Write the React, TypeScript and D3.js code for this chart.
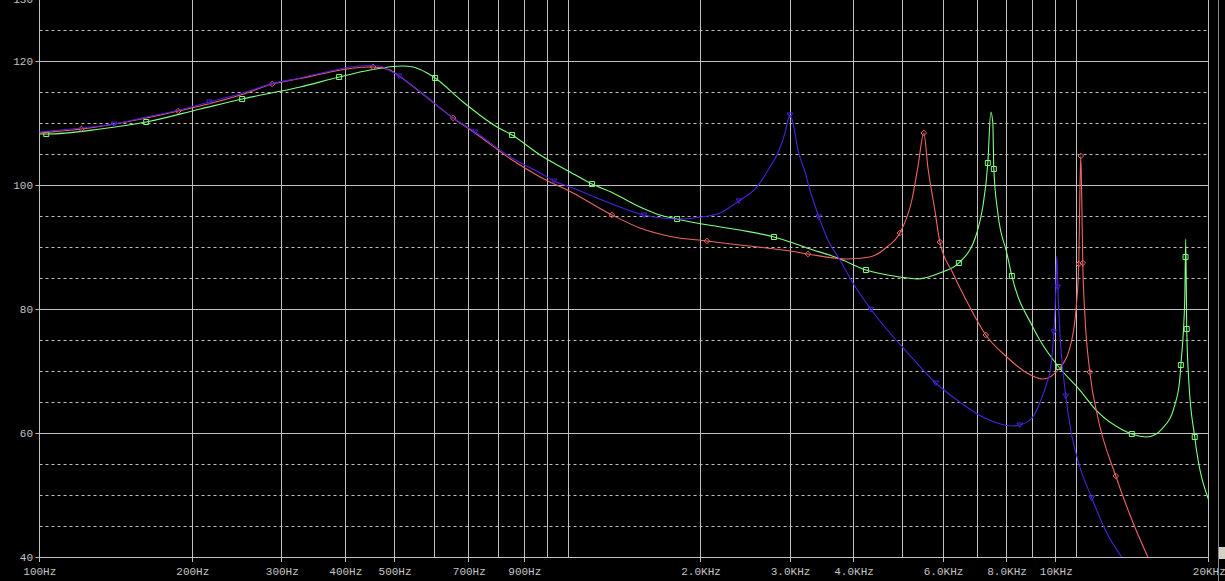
import React, { useEffect } from "react";
import * as d3 from "d3";

type Pt = [number, number];

// Frequency (Hz) / level (dB) values
const blueData: Pt[] = [
  [100, 108.6], [121, 109.24], [140.4, 109.89], [162.3, 111.0], [187.6, 112.1], [216, 113.44],
  [250.7, 114.84], [287.2, 116.4], [326.2, 117.31], [373.6, 118.44], [408.9, 119.08], [447.6, 119.32],
  [468.3, 119.24], [490, 118.44], [510.5, 117.63], [561.5, 115.05], [652, 110.86], [720, 108.6],
  [851.6, 104.4], [967, 101.98], [1030, 100.69], [1122, 99.56], [1309, 97.31], [1548, 95.21],
  [1798, 94.56], [2013, 94.89], [2184, 95.53], [2380, 97.47], [2582, 99.73], [2739, 102.95],
  [2840, 105.21], [2932, 108.44], [2972, 110.53], [3000, 111.34], [3040, 110.05], [3110, 105.69],
  [3210, 102.15], [3283, 99.24], [3419, 94.89], [3562, 91.18], [3761, 87.95], [3989, 84.24],
  [4308, 80.21], [4716, 76.18], [5093, 73.11], [5805, 68.11], [6387, 65.37], [7183, 62.63],
  [8214, 61.18], [8496, 61.34], [9011, 62.63], [9300, 64.89], [9645, 68.6], [9733, 69.73],
  [9910, 76.34], [10000, 83.11], [10045, 88.6], [10091, 83.6], [10182, 76.66], [10464, 66.02],
  [10702, 60.53], [11047, 55.69], [11771, 49.56], [12597, 43.92], [13483, 40.05],
];
const blueMarkers: Pt[] = [
  [140.4, 109.89], [216, 113.44], [510.5, 117.63], [720, 108.6], [1030, 100.69], [1548, 95.21],
  [2380, 97.47], [3000, 111.34], [3419, 94.89], [4327, 80.0], [5805, 68.11], [8496, 61.34],
  [9910, 76.34], [10091, 83.6], [10464, 66.02], [11771, 49.56],
];

const redData: Pt[] = [
  [100, 108.44], [121, 109.08], [187.6, 111.98], [250.7, 114.66], [287.2, 116.34], [326.2, 117.23],
  [373.6, 118.27], [408.9, 118.84], [453.8, 119.08], [490, 118.6], [510.5, 117.63], [561.5, 115.05],
  [652, 110.86], [720, 108.44], [851.6, 104.08], [967, 101.34], [1122, 98.76], [1339, 95.21],
  [1520, 93.11], [1766, 91.66], [2059, 91.02], [2390, 90.37], [3000, 89.4], [3253, 88.92],
  [3882, 88.11], [4308, 88.44], [4652, 90.05], [4934, 92.31], [5210, 97.63], [5354, 102.95],
  [5500, 108.44], [5601, 102.95], [5781, 96.02], [5914, 90.86], [6272, 85.86], [6774, 80.37],
  [7282, 75.85], [8010, 72.31], [8770, 69.73], [9427, 68.76], [10182, 70.53], [10750, 75.05],
  [10997, 81.5], [11097, 87.31], [11147, 97.63], [11198, 104.73], [11249, 97.63], [11300, 87.47],
  [11403, 79.4], [11666, 69.89], [12093, 62.63], [13121, 53.11], [14303, 44.89], [15175, 40.05],
];
const redMarkers: Pt[] = [
  [121, 109.08], [187.6, 111.98], [287.2, 116.34], [453.8, 119.08], [652, 110.86], [1339, 95.21],
  [2059, 91.02], [3253, 88.92], [4934, 92.31], [5500, 108.44], [5914, 90.86], [7282, 75.85],
  [11097, 87.31], [11198, 104.73], [11300, 87.47], [11666, 69.89], [13121, 53.11],
];

const greenData: Pt[] = [
  [100, 108.27], [103.2, 108.27], [131.8, 109.08], [162.3, 110.21], [207.4, 112.31], [250.7, 113.92],
  [326.2, 115.85], [389, 117.47], [447.6, 118.6], [517.5, 119.24], [543.9, 119.08], [579.5, 118.11],
  [600.8, 117.31], [682, 113.44], [795.5, 109.4], [851.6, 108.11], [967, 104.89], [1107, 102.15],
  [1223, 100.21], [1345, 98.76], [1520, 96.5], [1664, 95.21], [1798, 94.56], [2013, 93.76],
  [2390, 92.79], [2789, 91.66], [3000, 90.86], [3239, 89.89], [3727, 88.27], [4231, 86.34],
  [4934, 85.21], [5330, 84.89], [5914, 85.86], [6445, 87.47], [6991, 92.31], [7183, 96.5],
  [7350, 103.6], [7450, 111.82], [7518, 110.05], [7552, 102.63], [7691, 95.53], [8010, 89.08],
  [8195, 85.37], [9011, 77.15], [9300, 75.05], [10136, 70.69], [11147, 66.98], [12039, 63.6],
  [13545, 60.53], [14110, 59.89], [15106, 59.4], [16234, 60.85], [17140, 64.56], [17532, 68.6],
  [17622, 71.02], [17935, 81.5], [18016, 91.34], [18098, 76.82], [18262, 68.6], [18764, 59.4],
  [20000, 49.2],
];
const greenMarkers: Pt[] = [
  [103.2, 108.27], [162.3, 110.21], [250.7, 113.92], [389, 117.47], [600.8, 117.31], [851.6, 108.11],
  [1223, 100.21], [1798, 94.56], [2789, 91.66], [4231, 86.34], [6445, 87.47], [7350, 103.6],
  [7552, 102.63], [8195, 85.37], [10136, 70.69], [14110, 59.89], [17622, 71.02], [18000, 88.44],
  [18098, 76.82], [18764, 59.4],
];

const xTickValues = [100, 200, 300, 400, 500, 700, 900, 2000, 3000, 4000, 6000, 8000, 10000, 20000];
const xTickLabels = ["100Hz", "200Hz", "300Hz", "400Hz", "500Hz", "700Hz", "900Hz", "2.0KHz", "3.0KHz", "4.0KHz", "6.0KHz", "8.0KHz", "10KHz", "20KHz"];
const xGridValues = [100, 200, 300, 400, 500, 600, 700, 800, 900, 1000, 1100, 2000, 3000, 4000, 5000, 6000, 7000, 8000, 9000, 10000, 11000, 20000];
const yMajor = [40, 60, 80, 100, 120];
const yMinor = [45, 50, 55, 65, 70, 75, 85, 90, 95, 105, 110, 115, 125];
const yLabels = [40, 60, 80, 100, 120, 130];

const W = 1225;
const H = 581;
const GRID = "#c0c0c0";
const FONT = "'Liberation Mono', 'DejaVu Sans Mono', monospace";

const triDown: d3.SymbolType = {
  draw(ctx) {
    ctx.moveTo(-2.8, -2);
    ctx.lineTo(2.8, -2);
    ctx.lineTo(0, 2.6);
    ctx.closePath();
  },
};
const diamond: d3.SymbolType = {
  draw(ctx) {
    ctx.moveTo(0, -2.8);
    ctx.lineTo(2.8, 0);
    ctx.lineTo(0, 2.8);
    ctx.lineTo(-2.8, 0);
    ctx.closePath();
  },
};
const square: d3.SymbolType = {
  draw(ctx) {
    ctx.rect(-2.5, -2.5, 5, 5);
  },
};

export default function App() {
  useEffect(() => {
    document.body.style.margin = "0";
    document.body.style.background = "#000";
  }, []);

  const xs = d3.scaleLog().domain([100, 20000]).range([39.3, 1208.8]);
  const ys = d3.scaleLinear().domain([40, 130]).range([557.3, -0.7]);
  const snap = (v: number) => Math.floor(v) + 0.5;

  const left = snap(xs(100));
  const right = snap(xs(20000));
  const bottom = snap(ys(40));

  const line = d3
    .line<Pt>()
    .x((d) => xs(d[0]))
    .y((d) => ys(d[1]))
    .curve(d3.curveMonotoneX);

  const series = [
    { data: greenData, markers: greenMarkers, color: "#80ff80", sym: square },
    { data: redData, markers: redMarkers, color: "#f06464", sym: diamond },
    { data: blueData, markers: blueMarkers, color: "#4a20dc", sym: triDown },
  ];

  return (
    <svg width={W} height={H} style={{ position: "absolute", left: 0, top: 0, display: "block", background: "#000" }}>
      <defs>
        <clipPath id="plot">
          <rect x={left} y={-2} width={right - left} height={bottom + 2} />
        </clipPath>
      </defs>
      <rect x={0} y={0} width={W} height={H} fill="#000" />
      {/* vertical grid */}
      {xGridValues.map((f) => (
        <line key={"vx" + f} x1={snap(xs(f))} x2={snap(xs(f))} y1={0} y2={bottom} stroke={GRID} strokeWidth={1} />
      ))}
      {/* minor horizontal grid */}
      {yMinor.map((v) => (
        <line key={"hm" + v} x1={left} x2={right} y1={snap(ys(v))} y2={snap(ys(v))} stroke={GRID} strokeWidth={1} strokeDasharray="3,3" />
      ))}
      {/* major horizontal grid */}
      {yMajor.map((v) => (
        <line key={"hM" + v} x1={left} x2={right} y1={snap(ys(v))} y2={snap(ys(v))} stroke={GRID} strokeWidth={1} />
      ))}
      {/* axis line and ticks */}
      <line x1={left} x2={left} y1={0} y2={bottom + 4} stroke={GRID} />
      {yLabels.map((v) => (
        <line key={"yt" + v} x1={left - 4} x2={left} y1={snap(ys(v))} y2={snap(ys(v))} stroke={GRID} />
      ))}
      {xTickValues.map((f) => (
        <line key={"xt" + f} x1={snap(xs(f))} x2={snap(xs(f))} y1={bottom} y2={bottom + 4.5} stroke={GRID} />
      ))}
      {/* labels */}
      {yLabels.map((v) => (
        <text key={"yl" + v} x={33} y={ys(v) + 3.8} textAnchor="end" fill="#c4c4c4" fontFamily={FONT} fontSize={11}>
          {v}
        </text>
      ))}
      {xTickValues.map((f, i) => (
        <text key={"xl" + f} x={xs(f) + 0.5} y={575} textAnchor="middle" fill="#c4c4c4" fontFamily={FONT} fontSize={11}>
          {xTickLabels[i]}
        </text>
      ))}
      {/* traces */}
      <g clipPath="url(#plot)">
        {series.map((s, i) => (
          <g key={"s" + i}>
            <path d={line(s.data) || ""} fill="none" stroke={s.color} strokeWidth={1.1} />
            {s.markers.map((m, j) => (
              <path
                key={j}
                transform={`translate(${xs(m[0])},${ys(m[1])})`}
                d={d3.symbol().type(s.sym)() || ""}
                fill="none"
                stroke={s.color}
                strokeWidth={1}
              />
            ))}
          </g>
        ))}
      </g>
      {/* window edge */}
      <line x1={1218.5} x2={1218.5} y1={0} y2={H} stroke="#8a8a8a" />
      <rect x={1219} y={547} width={6} height={12} fill="#d4d0c8" />
    </svg>
  );
}
